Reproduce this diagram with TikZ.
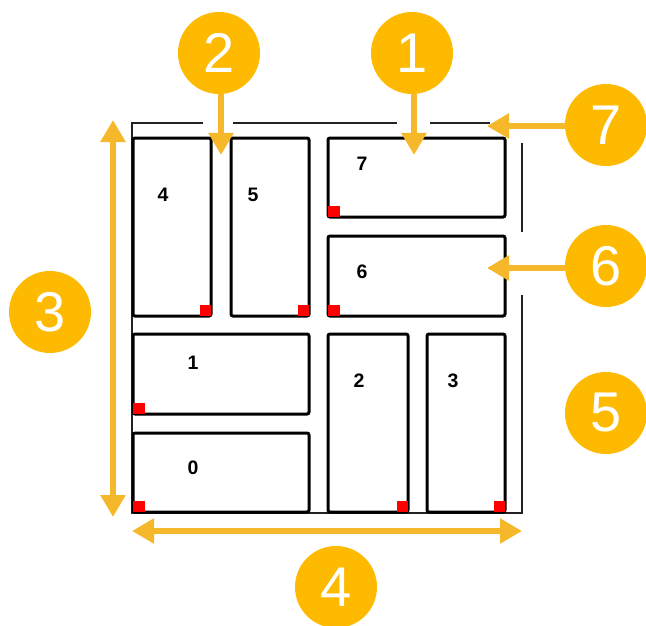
\documentclass[tikz,border=0pt]{standalone}
\usepackage{fontspec}
\setmainfont{Liberation Sans}
\usetikzlibrary{arrows.meta}
\definecolor{gold}{HTML}{FDBA00}
\definecolor{arr}{HTML}{F4B82A}
\definecolor{framecol}{HTML}{222222}
\begin{document}
\begin{tikzpicture}[x=1pt,y=-1pt,
  box/.style={draw=black, line width=3pt, rounded corners=2pt, outer sep=0pt, inner sep=0pt, rectangle},
  lbl/.style={font=\bfseries\fontsize{19.5}{19.5}\selectfont, text=black, inner sep=0pt},
  circ/.style={circle, fill=gold, minimum size=82pt, inner sep=0pt, text=white, font=\fontsize{56}{56}\selectfont},
  yarrow/.style={draw=arr, line width=6.5pt, -{Triangle[width=24pt,length=22pt]}},
  ydouble/.style={draw=arr, line width=6.5pt, {Triangle[width=24pt,length=22pt]}-{Triangle[width=24pt,length=22pt]}},
  framel/.style={draw=framecol, line width=1.3pt},
  redsq/.style={fill=red}]
\useasboundingbox (0,0) rectangle (646,626);
% frame
\draw[framel] (203,123) -- (132,123) -- (132,513) -- (522,513) -- (522,295);
\draw[framel] (233,123) -- (397,123);
\draw[framel] (430,123) -- (490,123);
\draw[framel] (522,143) -- (522,232);
% boxes
\node[box, minimum width=78pt, minimum height=178pt] (b4) at (172,227) {};
\node[box, minimum width=78pt, minimum height=178pt] (b5) at (270,227) {};
\node[box, minimum width=177pt, minimum height=79pt] (b7) at (416.5,177.5) {};
\node[box, minimum width=177pt, minimum height=80pt] (b6) at (416.5,276) {};
\node[box, minimum width=176pt, minimum height=80pt] (b1) at (221,374) {};
\node[box, minimum width=176pt, minimum height=79pt] (b0) at (221,472.5) {};
\node[box, minimum width=80pt, minimum height=178pt] (b2) at (368,423) {};
\node[box, minimum width=78pt, minimum height=178pt] (b3) at (466,423) {};
% red markers
\fill[redsq] (b4.south east) rectangle ++(-11.5,-11.5);
\fill[redsq] (b5.south east) rectangle ++(-11.5,-11.5);
\fill[redsq] (b7.south west) rectangle ++(11.5,-11.5);
\fill[redsq] (b6.south west) rectangle ++(11.5,-11.5);
\fill[redsq] (b1.south west) rectangle ++(11.5,-11.5);
\fill[redsq] (b0.south west) rectangle ++(11.5,-11.5);
\fill[redsq] (b2.south east) rectangle ++(-11.5,-11.5);
\fill[redsq] (b3.south east) rectangle ++(-11.5,-11.5);
% labels
\node[lbl] (t4) at (163,195) {4};
\node[lbl] (t5) at (253,195) {5};
\node[lbl] (t7) at (362,164) {7};
\node[lbl] (t6) at (362,272) {6};
\node[lbl] (t1) at (193,363) {1};
\node[lbl] (t0) at (193,468) {0};
\node[lbl] (t2) at (359,381) {2};
\node[lbl] (t3) at (453,381) {3};
% callout circles
\node[circ] (c2) at (219,53) {2};
\node[circ] (c1) at (412,53) {1};
\node[circ] (c3) at (50,312) {3};
\node[circ] (c7) at (606,125) {7};
\node[circ] (c6) at (606,266) {6};
\node[circ] (c5) at (606,413) {5};
\node[circ] (c4) at (336,587) {4};
% arrow targets
\coordinate (p2) at (221,155);
\coordinate (p1) at (414,155);
\coordinate (p7) at (487,126);
\coordinate (p6) at (487,268);
\coordinate (p3a) at (113,120);
\coordinate (p3b) at (113,517);
\coordinate (p4a) at (132,531);
\coordinate (p4b) at (522,531);
% arrows
\draw[yarrow] (p2 |- c2.south) -- (p2);
\draw[yarrow] (p1 |- c1.south) -- (p1);
\draw[yarrow] (c7.west |- p7) -- (p7);
\draw[yarrow] (c6.west |- p6) -- (p6);
\draw[ydouble] (p3a) -- (p3b);
\draw[ydouble] (p4a) -- (p4b);
\end{tikzpicture}
\end{document}
